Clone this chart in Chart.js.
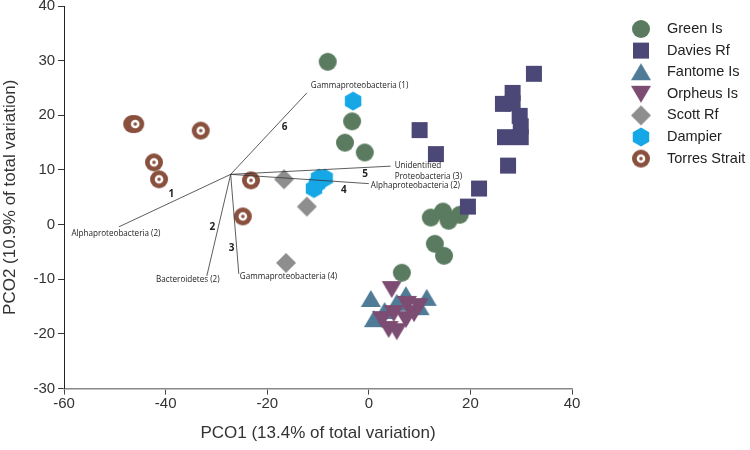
<!DOCTYPE html>
<html>
<head>
<meta charset="utf-8">
<script src="https://cdn.jsdelivr.net/npm/chart.js@4/dist/chart.umd.min.js"></script>
<style>
  html, body { margin: 0; padding: 0; background: #fff; overflow: hidden; }
  #wrap { width: 750px; height: 456px; margin-top: -6px; }
</style>
</head>
<body>
<div id="wrap"><canvas id="pco"></canvas></div>
<script>
// Site scores, [PCO1, PCO2]
var greenIs = [[-8.1, 29.8], [-3.3, 18.9], [-4.7, 15.0], [-0.8, 13.2], [12.2, 1.3], [14.6, 2.4],
	[15.7, 0.7], [17.9, 1.8], [13.0, -3.5], [14.8, -5.7], [6.5, -8.8]];
var daviesRf = [[32.5, 27.6], [28.3, 24.1], [26.4, 22.1], [28.3, 22.2], [29.7, 19.9], [29.9, 18.0],
	[29.9, 16.0], [26.8, 16.0], [27.4, 10.8], [10.0, 17.3], [13.2, 12.9], [21.7, 6.6], [19.5, 3.3]];
var fantomeIs = [[0.4, -13.6], [1.0, -17.3], [7.3, -12.9], [11.4, -13.4], [10.0, -15.1], [5.5, -14.3], [3.1, -15.8]];
var orpheusIs = [[4.5, -11.8], [4.9, -16.2], [7.5, -14.5], [8.9, -16.2], [3.9, -19.1], [5.5, -19.5],
	[2.6, -17.3], [7.3, -17.3], [9.8, -14.9]];
var scottRf = [[-16.7, 8.3], [-12.2, 3.3], [-16.3, -7.0]];
var dampier = [[-3.1, 22.6], [-9.8, 8.5], [-8.7, 8.5], [-10.8, 6.6], [-10.2, 7.5]];
var torresStrait = [[-46.6, 18.4], [-46.0, 18.4], [-33.1, 17.2], [-42.3, 11.4], [-41.3, 8.3], [-23.2, 8.1], [-24.8, 1.5]];

var siteNames = ['Green Is', 'Davies Rf', 'Fantome Is', 'Orpheus Is', 'Scott Rf', 'Dampier', 'Torres Strait'];

// Vector overlay
var vectorOrigin = [-27.2, 9.2];
var vectorEnds = [[-49.2, -0.4], [-31.9, -9.4], [-25.6, -9.0], [0.0, 7.5], [4.3, 10.7], [-12.2, 24.1]];
var vectorNums = ['1', '2', '3', '4', '5', '6'];
var vectorNames = [['Alphaproteobacteria (2)'], ['Bacteroidetes (2)'], ['Gammaproteobacteria (4)'],
	['Alphaproteobacteria (2)'], ['Unidentified', 'Proteobacteria (3)'], ['Gammaproteobacteria (1)']];

var xTicks = [-60, -40, -20, 0, 20, 40];
var yTicks = [-30, -20, -10, 0, 10, 20, 30, 40];

// marker images
function marker(shape, color) {
	var c = document.createElement('canvas');
	c.width = 22; c.height = 22;
	var g = c.getContext('2d');
	g.fillStyle = color;
	g.beginPath();
	if (shape === 'circle' || shape === 'ring') {
		g.arc(11, 11, 9, 0, Math.PI * 2);
	} else if (shape === 'square') {
		g.rect(3, 3, 16, 16);
	} else if (shape === 'up') {
		g.moveTo(11, 2); g.lineTo(21, 19); g.lineTo(1, 19);
	} else if (shape === 'down') {
		g.moveTo(1, 3); g.lineTo(21, 3); g.lineTo(11, 20);
	} else if (shape === 'diamond') {
		g.moveTo(11, 1); g.lineTo(21, 11); g.lineTo(11, 21); g.lineTo(1, 11);
	} else if (shape === 'hex') {
		for (var i = 0; i < 6; i++) {
			var a = Math.PI / 2 + i * Math.PI / 3;
			g.lineTo(11 + 9.5 * Math.cos(a), 11 - 9.5 * Math.sin(a));
		}
	}
	g.closePath();
	g.fill();
	if (shape === 'ring') {
		g.fillStyle = '#fff';
		g.beginPath(); g.arc(11, 11, 4.3, 0, Math.PI * 2); g.fill();
		g.fillStyle = color;
		g.beginPath(); g.arc(11, 11, 1.8, 0, Math.PI * 2); g.fill();
	}
	return c;
}

var markers = [
	marker('circle', '#5a7b5f'),
	marker('square', '#4b4877'),
	marker('up', '#4f7b97'),
	marker('down', '#7c4c73'),
	marker('diamond', '#8e8e8e'),
	marker('hex', '#16a8e6'),
	marker('ring', '#89503d'),
];

function pts(arr) {
	return arr.map(function (p) { return { x: p[0], y: p[1] }; });
}

var siteData = [greenIs, daviesRf, fantomeIs, orpheusIs, scottRf, dampier, torresStrait];
var drawOrder = [2, 1, 4, 3, 5, 5, 5];

var datasets = siteData.map(function (d, i) {
	return {
		label: siteNames[i],
		data: pts(d),
		pointStyle: markers[i],
		order: drawOrder[i],
	};
});

vectorEnds.forEach(function (e, i) {
	datasets.push({
		type: 'line',
		label: 'v' + vectorNums[i],
		data: [{ x: vectorOrigin[0], y: vectorOrigin[1] }, { x: e[0], y: e[1] }],
		borderColor: '#333',
		borderWidth: 0.8,
		pointRadius: 0,
		fill: false,
		order: 0,
	});
});

// label placement for the vectors: number at fraction t + offset, name offset from tip
var numPos = [[0.53, 0, -8], [0.52, -6, 0], [0.74, -5, 0], [0.82, 0, 8], [0.84, 0, 7], [0.63, 6, 4]];
var namePos = [[-3, 7, 'center'], [-19, 4, 'center'], [1, 3, 'left'], [2, 2, 'left'], [4, 0, 'left'], [4, -7, 'left']];

var vectorLabels = {
	id: 'vectorLabels',
	afterDatasetsDraw: function (chart) {
		var ctx = chart.ctx;
		var xs = chart.scales.x, ys = chart.scales.y;
		var ox = xs.getPixelForValue(vectorOrigin[0]), oy = ys.getPixelForValue(vectorOrigin[1]);
		ctx.save();
		ctx.fillStyle = '#222';
		ctx.textBaseline = 'middle';
		vectorEnds.forEach(function (e, i) {
			var ex = xs.getPixelForValue(e[0]), ey = ys.getPixelForValue(e[1]);
			var t = numPos[i][0];
			ctx.font = 'bold 10px "Open Sans", sans-serif';
			ctx.textAlign = 'center';
			ctx.fillText(vectorNums[i], ox + (ex - ox) * t + numPos[i][1], oy + (ey - oy) * t + numPos[i][2]);
			ctx.font = '8.1px "Open Sans", sans-serif';
			ctx.textAlign = namePos[i][2];
			vectorNames[i].forEach(function (line, k) {
				ctx.fillText(line, ex + namePos[i][0], ey + namePos[i][1] + k * 11);
			});
		});
		ctx.restore();
	},
};

// legend on the right (canvas is shifted up 6px by the wrapper)
var sideLegend = {
	id: 'sideLegend',
	afterDraw: function (chart) {
		var ctx = chart.ctx;
		ctx.save();
		ctx.font = '14.5px "Liberation Sans", Arial, sans-serif';
		ctx.fillStyle = '#222';
		ctx.textBaseline = 'middle';
		ctx.textAlign = 'left';
		siteNames.forEach(function (name, i) {
			var y = 35 + i * 21.6;
			ctx.drawImage(markers[i], 641 - 11, y - 11);
			ctx.fillText(name, 667, y);
		});
		ctx.restore();
	},
};

new Chart(document.getElementById('pco'), {
	type: 'scatter',
	data: { datasets: datasets },
	plugins: [vectorLabels, sideLegend],
	options: {
		responsive: true,
		maintainAspectRatio: false,
		animation: false,
		events: [],
		layout: { padding: { left: 0, right: 178, top: 0, bottom: 6 } },
		plugins: { legend: { display: false }, tooltip: { enabled: false } },
		scales: {
			x: {
				min: -60,
				max: 40,
				afterBuildTicks: function (s) { s.ticks = xTicks.map(function (v) { return { value: v }; }); },
				grid: { drawOnChartArea: false, drawTicks: true, tickLength: 6, color: '#444' },
				border: { color: '#888', width: 1.5 },
				ticks: { color: '#333', font: { size: 15, family: '"Liberation Sans", Arial, sans-serif' }, padding: 0, maxRotation: 0 },
				title: {
					display: true,
					text: 'PCO1 (13.4% of total variation)',
					color: '#333',
					font: { size: 17, family: '"Liberation Sans", Arial, sans-serif' },
					padding: { top: 11, bottom: 0 },
				},
			},
			y: {
				min: -30,
				max: 40,
				afterBuildTicks: function (s) { s.ticks = yTicks.map(function (v) { return { value: v }; }); },
				grid: { drawOnChartArea: false, drawTicks: true, tickLength: 6, color: '#333' },
				border: { color: '#222', width: 1 },
				ticks: { color: '#333', font: { size: 15, family: '"Liberation Sans", Arial, sans-serif' }, padding: 3 },
				title: {
					display: true,
					text: 'PCO2 (10.9% of total variation)',
					color: '#333',
					font: { size: 17, family: '"Liberation Sans", Arial, sans-serif' },
					padding: { top: 0, bottom: 10 },
				},
			},
		},
	},
});
</script>
</body>
</html>
